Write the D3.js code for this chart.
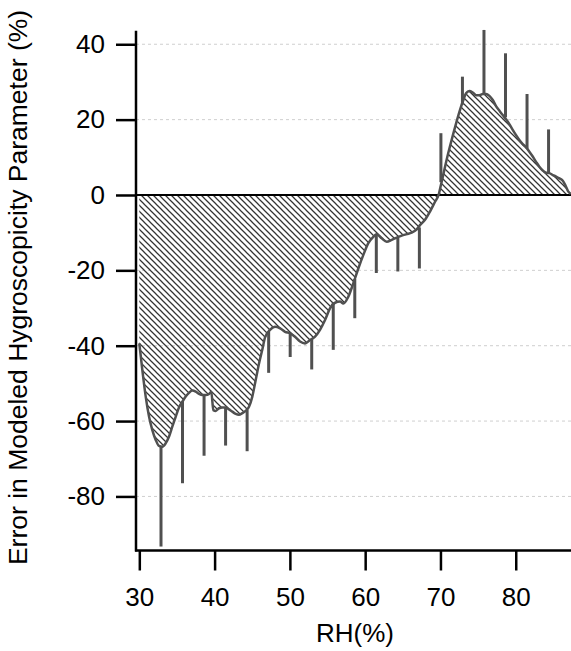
<!DOCTYPE html>
<html>
<head>
<meta charset="utf-8">
<script src="https://cdn.jsdelivr.net/npm/d3@7"></script>
<style>
  html, body { margin: 0; padding: 0; background: #fff; }
  svg { display: block; }
  text { font-family: "Liberation Sans", Arial, sans-serif; fill: #000; }
</style>
</head>
<body>
<svg id="chart" width="571" height="651"></svg>
<script>
// ---- Data ----
const curveRH = [30.0, 30.4, 30.85, 31.29, 31.73, 32.18, 32.62, 33.06, 33.5, 33.95, 34.38, 34.84, 35.27, 35.71, 36.16, 36.6, 37.04, 37.49, 37.93, 38.37, 38.82, 39.26, 39.56, 39.83, 40.15, 40.59, 41.03, 41.48, 41.92, 42.35, 42.81, 43.24, 43.68, 44.13, 44.57, 45.01, 45.46, 45.9, 46.34, 46.7, 47.36, 48.03, 48.7, 49.36, 50.03, 50.68, 51.35, 52.01, 52.68, 53.34, 54.0, 54.67, 55.33, 56.0, 56.67, 57.1, 57.76, 58.43, 59.09, 59.76, 60.42, 61.08, 61.53, 62.2, 62.86, 63.53, 64.19, 64.86, 65.52, 66.18, 66.85, 67.28, 67.95, 68.61, 69.28, 69.75, 70.1, 70.5, 70.9, 71.3, 71.75, 72.16, 72.6, 73.04, 73.4, 73.84, 74.29, 74.73, 75.17, 75.62, 76.06, 76.5, 76.95, 77.38, 77.82, 78.27, 78.71, 79.15, 79.6, 80.04, 80.48, 80.93, 81.37, 81.81, 82.26, 82.7, 83.14, 83.59, 84.03, 84.47, 84.92, 85.36, 85.8, 86.25, 86.68, 86.99, 87.3];
const curveErr = [-39.4, -46.4, -53.5, -58.8, -62.4, -65.0, -66.6, -66.8, -65.9, -64.1, -61.5, -58.8, -56.4, -54.9, -53.5, -52.5, -51.9, -52.2, -52.8, -53.1, -53.1, -52.8, -52.2, -57.1, -57.3, -56.6, -56.4, -56.4, -56.9, -57.5, -58.1, -58.3, -57.9, -57.3, -56.2, -53.5, -49.1, -44.7, -41.0, -37.8, -35.8, -35.0, -35.4, -36.3, -36.7, -37.6, -38.9, -39.4, -38.5, -37.6, -35.8, -33.2, -30.1, -28.6, -28.3, -28.8, -27.0, -23.4, -19.5, -15.9, -12.8, -11.1, -10.4, -11.5, -12.4, -11.9, -11.3, -10.8, -10.4, -10.0, -9.1, -8.0, -6.6, -4.4, -1.8, 0.0, 3.0, 6.5, 10.0, 13.2, 16.6, 19.6, 22.6, 25.2, 27.0, 27.6, 27.2, 26.5, 26.5, 26.8, 26.8, 26.3, 25.2, 23.6, 22.4, 21.2, 20.1, 18.8, 17.3, 15.9, 14.6, 13.5, 12.7, 11.5, 10.2, 8.8, 7.5, 6.5, 5.9, 5.8, 5.3, 4.9, 4.4, 3.8, 2.2, 0.9, 0.3];

const barRH   = [32.88, 35.74, 38.6, 41.46, 44.32, 47.18, 50.04, 52.9, 55.76, 58.62, 61.48, 64.34, 67.2, 70.06, 72.92, 75.78, 78.64, 81.5, 84.36];
const barMean = [-66.8, -54.7, -53.1, -56.4, -57.0, -36.2, -36.6, -38.3, -28.5, -22.3, -10.5, -11.4, -8.6, 3.4, 24.0, 26.8, 20.6, 12.4, 5.8];
const barEnd  = [-93.3, -76.5, -69.2, -66.5, -68.0, -47.2, -43.0, -46.3, -41.1, -32.7, -20.7, -20.3, -19.5, 16.4, 31.4, 43.8, 37.6, 26.8, 17.4];

const xTicks = [30, 40, 50, 60, 70, 80];
const yTicks = [40, 20, 0, -20, -40, -60, -80];
const gridVals = [40, 20, -20, -40, -60, -80];

const xTitle = "RH(%)";
const yTitle = "Error in Modeled Hygroscopicity Parameter (%)";

// ---- Drawing ----
const svg = d3.select("#chart");
const x = d3.scaleLinear().domain([29.56, 87.34]).range([136, 571]);
const y = d3.scaleLinear().domain([-94.35, 43.6]).range([550.5, 30.7]);

const defs = svg.append("defs");
const pat = defs.append("pattern")
  .attr("id", "hatch")
  .attr("patternUnits", "userSpaceOnUse")
  .attr("width", 6).attr("height", 6);
pat.append("path")
  .attr("d", "M-1,-1 L7,7 M-1,5 L1,7 M5,-1 L7,1")
  .attr("stroke", "#333")
  .attr("stroke-width", 1.25)
  .attr("fill", "none");

// gridlines
svg.append("g").selectAll("line").data(gridVals).join("line")
  .attr("x1", x.range()[0]).attr("x2", x.range()[1])
  .attr("y1", d => y(d)).attr("y2", d => y(d))
  .attr("stroke", "#cfcfcf").attr("stroke-width", 1)
  .attr("stroke-dasharray", "3,3");

const pts = curveRH.map((r, i) => [r, curveErr[i]]);

// hatched area
const area = d3.area()
  .x(d => x(d[0])).y0(y(0)).y1(d => y(d[1]))
  .curve(d3.curveMonotoneX);
svg.append("path").datum(pts)
  .attr("d", area)
  .attr("fill", "url(#hatch)");

// zero line
svg.append("line")
  .attr("x1", x.range()[0]).attr("x2", x.range()[1])
  .attr("y1", y(0)).attr("y2", y(0))
  .attr("stroke", "#000").attr("stroke-width", 2);

// curve
const line = d3.line().x(d => x(d[0])).y(d => y(d[1])).curve(d3.curveMonotoneX);
svg.append("path").datum(pts)
  .attr("d", line)
  .attr("fill", "none")
  .attr("stroke", "#505050")
  .attr("stroke-width", 2.5)
  .attr("stroke-linejoin", "round");

// error bars
svg.append("g").selectAll("line").data(barRH).join("line")
  .attr("x1", d => x(d)).attr("x2", d => x(d))
  .attr("y1", (d, i) => y(barMean[i]))
  .attr("y2", (d, i) => y(barEnd[i]))
  .attr("stroke", "#505050").attr("stroke-width", 3);

// axes
const fmt = d => String(d);
const yAxis = d3.axisLeft(y).tickValues(yTicks).tickSize(20).tickPadding(11).tickFormat(fmt);
const gy = svg.append("g").attr("transform", "translate(136,0)").call(yAxis);
gy.select(".domain").attr("d", `M0,${y.range()[1]}V${y.range()[0] + 1}`).attr("stroke", "#000").attr("stroke-width", 2.5);
gy.selectAll(".tick line").attr("stroke", "#000").attr("stroke-width", 2.5);
gy.selectAll(".tick text").attr("font-size", 26).attr("font-family", "Liberation Sans, Arial, sans-serif").attr("fill", "#000");

const xAxis = d3.axisBottom(x).tickValues(xTicks).tickSize(20).tickPadding(17).tickFormat(fmt);
const gx = svg.append("g").attr("transform", "translate(0,550.5)").call(xAxis);
gx.select(".domain").attr("d", `M${x.range()[0] - 1},0H${x.range()[1]}`).attr("stroke", "#000").attr("stroke-width", 2.5);
gx.selectAll(".tick line").attr("stroke", "#000").attr("stroke-width", 2.5);
gx.selectAll(".tick text").attr("font-size", 26).attr("font-family", "Liberation Sans, Arial, sans-serif").attr("fill", "#000");

// titles
svg.append("text")
  .attr("x", 355).attr("y", 642)
  .attr("text-anchor", "middle")
  .attr("font-size", 26)
  .text(xTitle);

svg.append("text")
  .attr("transform", "translate(27,287.5) rotate(-90)")
  .attr("text-anchor", "middle")
  .attr("font-size", 26.5)
  .text(yTitle);
</script>
</body>
</html>
